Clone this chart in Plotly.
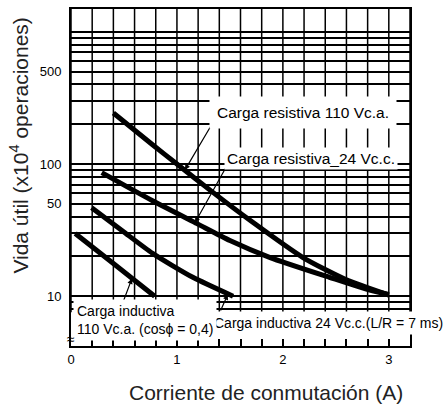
import math
import plotly.graph_objects as go

# ---- data ----
res110_x = [0.40, 0.77, 1.00, 1.34, 1.69, 2.19, 2.60, 3.00]
res110_y = [243, 140, 100, 61, 37.5, 19.6, 13.3, 10.2]
res24_x = [0.29, 0.77, 1.19, 1.50, 1.88, 2.44, 2.82, 3.00]
res24_y = [86, 52.7, 35.4, 26.4, 19.6, 13.9, 11.1, 10.3]
ind24_x = [0.195, 0.49, 0.77, 1.15, 1.53]
ind24_y = [46.7, 31.0, 21.1, 13.9, 10.0]
ind110_x = [0.04, 0.40, 0.79]
ind110_y = [29.8, 17.7, 10.0]

# leader lines: (label end x, label end y) -> (curve point x, curve point y)
lead_from_x = [1.358, 1.481, 1.406, 0.48]
lead_from_y = [218, 100, 7.6, 8.55]
lead_to_x = [1.075, 1.17, 1.48, 0.575]
lead_to_y = [90, 36, 10.3, 13.6]

labels = [
    "Carga resistiva 110 Vc.a.",
    "Carga resistiva_24 Vc.c.",
    "Carga inductiva 24 Vc.c.(L/R = 7 ms)",
    "Carga inductiva<br>110 Vc.a. (cos\u03d5 = 0,4)",
]

x_grid = [round(i * 0.2, 1) for i in range(17)]
x_ticktext = ["0" if v == 0 else (str(int(v)) if abs(v - round(v)) < 1e-9 else "") for v in x_grid]
y_grid = [8, 9] + [m * 10 for m in range(1, 10)] + [m * 100 for m in range(1, 11)]
y_labeled = {10: "10", 50: "50", 100: "100", 500: "500"}
y_ticktext = [y_labeled.get(v, "") for v in y_grid]

FONT = "Arial, Liberation Sans, sans-serif"

fig = go.Figure()
curve_style = dict(mode="lines", line=dict(color="black", width=5, shape="spline", smoothing=0.6),
                   showlegend=False, hoverinfo="skip")
for xs, ys in [(res110_x, res110_y), (res24_x, res24_y), (ind24_x, ind24_y), (ind110_x, ind110_y)]:
    fig.add_trace(go.Scatter(x=xs, y=ys, **curve_style))

# leader lines as arrows (annotation coordinates on a log axis are log10 values)
for fx, fy, tx, ty in zip(lead_from_x, lead_from_y, lead_to_x, lead_to_y):
    fig.add_annotation(x=tx, y=math.log10(ty), ax=fx, ay=math.log10(fy), axref="x", ayref="y",
                       text="", showarrow=True, arrowhead=2, arrowsize=0.9, arrowwidth=1.2,
                       arrowcolor="black", standoff=0)

# vertical grid lines (stop above the axis-break band)
for gx in x_grid:
    fig.add_shape(type="line", xref="x", yref="y domain", x0=gx, x1=gx, y0=0.1, y1=1,
                  line=dict(color="black", width=1.5), layer="below")

# labels
fig.add_annotation(x=2.193, y=math.log10(245), text=labels[0], showarrow=False,
                   font=dict(family=FONT, size=15.5, color="black"),
                   bgcolor="white", borderpad=7, xanchor="center", yanchor="middle")
fig.add_annotation(x=2.264, y=math.log10(111), text=labels[1], showarrow=False,
                   font=dict(family=FONT, size=15.5, color="black"),
                   bgcolor="white", borderpad=2, xanchor="center", yanchor="middle")
fig.add_annotation(x=2.429, y=math.log10(6.27), text=labels[2], showarrow=False,
                   font=dict(family=FONT, size=14, color="black"),
                   bgcolor="white", borderpad=3, xanchor="center", yanchor="middle")
fig.add_annotation(x=0.02, y=math.log10(6.6), text=labels[3], showarrow=False, align="left",
                   font=dict(family=FONT, size=14, color="black"),
                   bgcolor="white", borderpad=3, xanchor="left", yanchor="middle")

# axis titles
fig.add_annotation(xref="paper", yref="paper", x=0.574, y=-0.139,
                   text="Corriente de conmutación (A)", showarrow=False,
                   font=dict(family=FONT, size=21, color="#222"), xanchor="center", yanchor="middle")
fig.add_annotation(xref="paper", yref="paper", x=-0.152, y=0.596,
                   text="Vida útil (x10<sup>4</sup> operaciones)", showarrow=False, textangle=-90,
                   font=dict(family=FONT, size=21, color="#222"), xanchor="center", yanchor="middle")
# axis break mark
fig.add_annotation(xref="paper", yref="paper", x=0.0, y=0.022, text="\u2248", showarrow=False,
                   font=dict(family=FONT, size=14, color="black"), xanchor="center", yanchor="middle")

fig.update_xaxes(range=[0, 3.2], tickmode="array", tickvals=x_grid, ticktext=x_ticktext,
                 showgrid=False, zeroline=False,
                 showline=True, linecolor="black", linewidth=2, mirror=True,
                 ticks="inside", ticklen=7, tickwidth=1.5, tickcolor="black",
                 tickfont=dict(family=FONT, size=13, color="black"))
fig.update_yaxes(type="log", range=[math.log10(4.2), math.log10(1489)], tickmode="array",
                 tickvals=y_grid, ticktext=y_ticktext,
                 showgrid=True, gridcolor="black", gridwidth=1.5, zeroline=False,
                 showline=True, linecolor="black", linewidth=2, mirror=True,
                 ticks="", ticklabelstandoff=5,
                 tickfont=dict(family=FONT, size=13, color="black"))

fig.update_layout(width=447, height=409, margin=dict(l=71, r=37, t=7, b=63),
                  plot_bgcolor="white", paper_bgcolor="white")

fig.write_html("out.html", config={"displayModeBar": False},
               post_script="document.body.style.margin='0px';")
